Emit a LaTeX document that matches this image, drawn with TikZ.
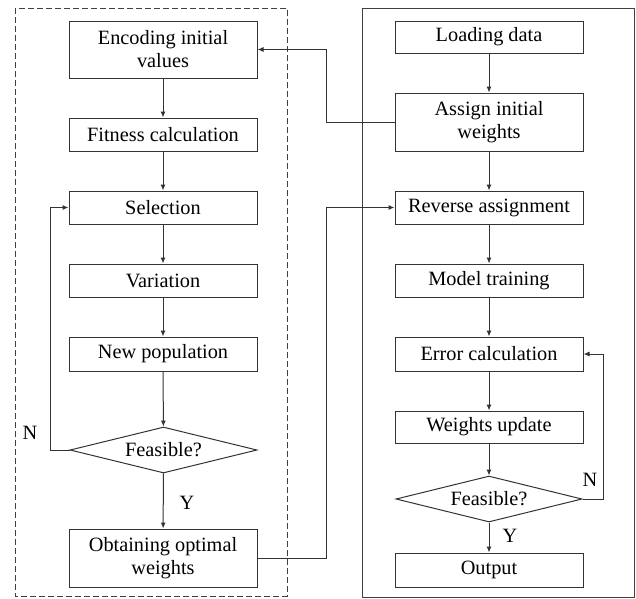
\documentclass[tikz,border=0pt]{standalone}
\usepackage{fontspec}
\setmainfont{Liberation Serif}
\usetikzlibrary{arrows.meta,shapes.geometric}
\begin{document}
\begin{tikzpicture}[x=1pt,y=-1pt,
  line width=1pt,
  every node/.style={font=\fontsize{20.3}{23}\selectfont, text=black},
  box/.style={draw=black!80, rectangle, minimum width=188pt, inner sep=0pt, align=center},
  dia/.style={draw=black!80, diamond, inner sep=0pt, aspect=4},
  arr/.style={draw=black!80, -{Latex[length=6pt,width=5pt]}},
  lbl/.style={inner sep=0pt}
]
\useasboundingbox (0,0) rectangle (636,598);
% frames
\draw[black!75, dash pattern=on 6pt off 3pt] (15,8) rectangle (287,596);
\draw[black!75] (362,8) rectangle (634,597);
% left column
\node[box, minimum height=57pt] (e1) at (163,49.5) {Encoding initial\\values};
\node[box, minimum height=33pt] (e2) at (163,134.5) {Fitness calculation};
\node[box, minimum height=33pt] (e3) at (163,207.5) {Selection};
\node[box, minimum height=33pt] (e4) at (163,280.5) {Variation};
\node[box, minimum height=34pt] (e5) at (163,354) {New population};
\node[dia, minimum width=187pt, minimum height=46pt] (d1) at (163.5,450) {Feasible?};
\node[box, minimum height=58pt] (e6) at (163,558) {Obtaining optimal\\weights};
% right column
\node[box, minimum height=32pt] (r1) at (489,37) {Loading data};
\node[box, minimum height=58pt] (r2) at (489,122) {Assign initial\\weights};
\node[box, minimum height=33pt] (r3) at (489,207.5) {Reverse assignment};
\node[box, minimum height=33pt] (r4) at (489,280.5) {Model training};
\node[box, minimum height=34pt] (r5) at (489,354) {Error calculation};
\node[box, minimum height=32pt] (r6) at (489,427) {Weights update};
\node[dia, minimum width=186pt, minimum height=46pt] (d2) at (489,499) {Feasible?};
\node[box, minimum height=34pt] (r7) at (489,570) {Output};
% helper coordinates
\coordinate (lx) at (50,0);
\coordinate (mx) at (326,0);
\coordinate (rx) at (603,0);
% left arrows
\draw[arr] (e1) -- (e2);
\draw[arr] (e2) -- (e3);
\draw[arr] (e3) -- (e4);
\draw[arr] (e4) -- (e5);
\draw[arr] (e5) -- (d1);
\draw[arr] (d1) -- (e6);
\draw[arr] (d1.west) -- (d1.west -| lx) -- (e3.west -| lx) -- (e3.west);
\node[lbl] (n1) at (30,433) {N};
\node[lbl] (y1) at (187,503) {Y};
% right arrows
\draw[arr] (r1) -- (r2);
\draw[arr] (r2) -- (r3);
\draw[arr] (r3) -- (r4);
\draw[arr] (r4) -- (r5);
\draw[arr] (r5) -- (r6);
\draw[arr] (r6) -- (d2);
\draw[arr] (d2) -- (r7);
\draw[arr] (d2.east) -- (d2.east -| rx) -- (r5.east -| rx) -- (r5.east);
\node[lbl] (n2) at (590,480) {N};
\node[lbl] (y2) at (510,536) {Y};
% cross links
\draw[arr] (r2.west) -- (r2.west -| mx) -- (e1.east -| mx) -- (e1.east);
\draw[arr] (e6.east) -- (e6.east -| mx) -- (r3.west -| mx) -- (r3.west);
\end{tikzpicture}
\end{document}
